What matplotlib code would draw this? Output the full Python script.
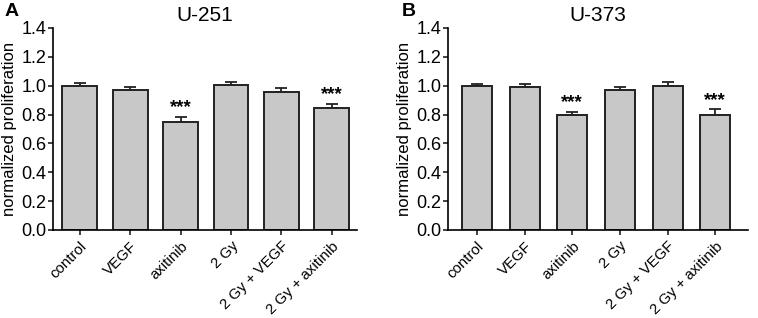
import matplotlib.pyplot as plt
import matplotlib.transforms as mtransforms
import numpy as np

plt.rcParams['font.family'] = ['Liberation Sans', 'DejaVu Sans']

groups = ['control', 'VEGF', 'axitinib', '2 Gy', '2 Gy + VEGF', '2 Gy + axitinib']

u251_mean = [1.00, 0.97, 0.75, 1.005, 0.956, 0.845]
u251_sem = [0.02, 0.02, 0.033, 0.022, 0.026, 0.03]
u251_sig = ['', '', '***', '', '', '***']

u373_mean = [1.00, 0.99, 0.80, 0.97, 0.998, 0.80]
u373_sem = [0.013, 0.02, 0.018, 0.018, 0.025, 0.036]
u373_sig = ['', '', '***', '', '', '***']


def draw_panel(fig, ax, means, sems, sig, title, width, xlim):
    x = np.arange(len(groups))
    ax.bar(x, means, width=width, color='#c8c8c8', edgecolor='#222222', linewidth=1.4, zorder=2)
    ax.errorbar(x, means, yerr=[np.zeros(len(sems)), sems], fmt='none', ecolor='#222222',
                elinewidth=1.3, capsize=4, capthick=1.3, zorder=1)
    for xi, m, s, t in zip(x, means, sems, sig):
        if t:
            ax.text(xi, m + s + 0.005, t, ha='center', va='bottom', fontsize=13.5, fontweight='bold')
    ax.set_ylim(0, 1.4)
    ax.set_xlim(*xlim)
    ax.set_yticks(np.arange(0, 1.41, 0.2))
    ax.set_yticklabels(['%.1f' % v for v in np.arange(0, 1.41, 0.2)], fontsize=13)
    ax.set_xticks(x)
    ax.set_xticklabels(groups, rotation=45, ha='right', rotation_mode='anchor', fontsize=10.8)
    # nudge the rotated labels a few pixels right so they end just past the tick
    shift = mtransforms.ScaledTranslation(3 / 100, 0, fig.dpi_scale_trans)
    for lbl in ax.get_xticklabels():
        lbl.set_transform(lbl.get_transform() + shift)
    ax.set_ylabel('normalized proliferation', fontsize=12, labelpad=3)
    ax.set_title(title, fontsize=15, pad=5)
    ax.spines['top'].set_visible(False)
    ax.spines['right'].set_visible(False)
    ax.spines['left'].set_linewidth(1.2)
    ax.spines['bottom'].set_linewidth(1.2)
    ax.tick_params(direction='out', length=3.6, width=1.2, colors='#222222', labelcolor='black')
    ax.tick_params(axis='x', pad=3)
    ax.tick_params(axis='y', pad=1)


fig = plt.figure(figsize=(7.58, 3.18), dpi=100)
ax1 = fig.add_axes([53 / 758, 1 - 230 / 318, 304 / 758, 202 / 318])
ax2 = fig.add_axes([448 / 758, 1 - 230 / 318, 300 / 758, 202 / 318])

draw_panel(fig, ax1, u251_mean, u251_sem, u251_sig, 'U-251', 0.69, (-0.53, 5.5))
draw_panel(fig, ax2, u373_mean, u373_sem, u373_sig, 'U-373', 0.63, (-0.61, 5.69))

fig.text(5 / 758, 1 - 11 / 318, 'A', fontsize=14, fontweight='bold', va='center')
fig.text(402 / 758, 1 - 11 / 318, 'B', fontsize=14, fontweight='bold', va='center')

fig.savefig('out.png', dpi=100)
